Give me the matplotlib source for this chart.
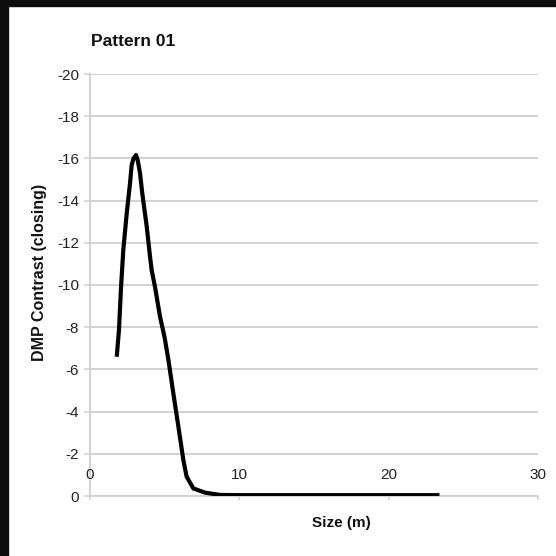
import matplotlib
matplotlib.use("Agg")
import matplotlib.pyplot as plt
from matplotlib.patches import Rectangle

plt.rcParams['font.family'] = ['Liberation Sans', 'DejaVu Sans']

# Data
size_m = [1.79, 1.94, 2.08, 2.23, 2.46, 2.68, 2.79, 2.92, 3.08, 3.2, 3.35, 3.5, 3.8, 4.02,
          4.13, 4.35, 4.69, 5.0, 5.25, 5.58, 5.92, 6.25, 6.47, 6.92, 7.7, 8.7,
          9.9, 11.1, 12.3, 13.5, 14.7, 15.9, 17.1, 18.3, 19.5, 20.7, 21.9, 23.4]
dmp_contrast = [-6.60, -7.87, -9.92, -11.66, -13.40, -14.82, -15.69, -16.0, -16.16, -15.9, -15.29,
                -14.35, -12.76, -11.34, -10.7, -9.92, -8.50, -7.5, -6.45, -4.87, -3.28, -1.71,
                -0.92, -0.36, -0.16, -0.05, -0.04, -0.04, -0.04, -0.04, -0.04, -0.04, -0.04,
                -0.04, -0.04, -0.04, -0.04, -0.04]
x_ticks = [0, 10, 20, 30]
y_ticks = [0, -2, -4, -6, -8, -10, -12, -14, -16, -18, -20]

title = "Pattern 01"
x_label = "Size (m)"
y_label = "DMP Contrast (closing)"

W = H = 556
fig = plt.figure(figsize=(5.56, 5.56), dpi=100)
fig.patch.set_facecolor('white')

# black frame bands at top and left
fig.patches.append(Rectangle((0, 1 - 6 / H), 1, 6 / H, transform=fig.transFigure,
                             color='#0d0d0d', zorder=0))
fig.patches.append(Rectangle((0, 0), 8 / W, 1, transform=fig.transFigure,
                             color='#0d0d0d', zorder=0))

ax = fig.add_axes([90 / W, 1 - 496 / H, (538 - 90) / W, (496 - 74) / H])
ax.plot(size_m, dmp_contrast, color='black', lw=3, solid_joinstyle='round',
        solid_capstyle='butt', zorder=3)

ax.set_xlim(0, 30)
ax.set_ylim(0, -20)
ax.set_xticks(x_ticks)
ax.set_yticks(y_ticks)
ax.set_yticklabels([str(v) for v in y_ticks])

grid_c = '#cfcfcf'
ax.grid(axis='y', color=grid_c, lw=1.3)
ax.grid(axis='x', visible=False)
ax.set_axisbelow(True)
for s in ['top', 'right']:
    ax.spines[s].set_visible(False)
for s in ['left', 'bottom']:
    ax.spines[s].set_color(grid_c)
    ax.spines[s].set_linewidth(1.3)
    ax.spines[s].set_zorder(0.5)

ax.tick_params(axis='y', length=4, width=1.1, color=grid_c, labelsize=11,
               labelcolor='#222222', pad=4)
ax.tick_params(axis='x', length=3, width=1.1, color=grid_c, labelsize=11,
               labelcolor='#222222', pad=-23)

fig.text(91 / W, 1 - 42 / H, title, fontsize=12.5, fontweight='bold',
         ha='left', va='center', color='#111111')
fig.text(40 / W, 1 - 272 / H, y_label, fontsize=11.5, fontweight='bold',
         rotation=90, ha='center', va='center', color='#111111')
fig.text(341 / W, 1 - 523 / H, x_label, fontsize=11, fontweight='bold',
         ha='center', va='center', color='#111111')

fig.savefig('out.png', dpi=100)
